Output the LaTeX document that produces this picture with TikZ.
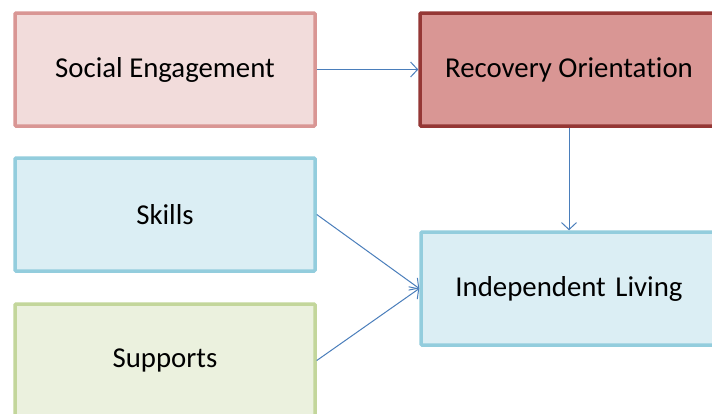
\documentclass[tikz,border=0pt]{standalone}
\usepackage{fontspec}
\setmainfont[Ligatures={NoCommon}]{Carlito}
\usetikzlibrary{arrows.meta}
\definecolor{pinkfill}{HTML}{F2DCDB}
\definecolor{pinkline}{HTML}{D99694}
\definecolor{redfill}{HTML}{D99694}
\definecolor{redline}{HTML}{953735}
\definecolor{bluefill}{HTML}{DBEEF4}
\definecolor{blueline}{HTML}{93CDDD}
\definecolor{greenfill}{HTML}{EBF1DE}
\definecolor{greenline}{HTML}{C3D69B}
\definecolor{arrowblue}{HTML}{4A7EBB}
\tikzset{
  box/.style={rectangle, line width=3.5pt, inner sep=0pt, minimum height=113pt,
    font=\fontsize{28.8}{34}\selectfont, text=black, rounded corners=1pt},
  conn/.style={draw=arrowblue, line width=1pt, -{Straight Barb[length=7pt,width=15pt,line width=1pt]}}
}
\begin{document}
\begin{tikzpicture}[x=1pt,y=-1pt]
\clip (0,0) rectangle (712,413);
\fill[white] (0,0) rectangle (712,413);
\node[box, draw=pinkline, fill=pinkfill, minimum width=300pt] (social) at (165,69.5) {\raisebox{-1.5pt}{Social Engagement}};
\node[box, draw=redline, fill=redfill, minimum width=298pt] (recovery) at (569,69.5) {\raisebox{-1.5pt}{Recovery Orientation}};
\node[box, draw=blueline, fill=bluefill, minimum width=300pt] (skills) at (165,214.5) {\raisebox{-1.5pt}{Skills}};
\node[box, draw=greenline, fill=greenfill, minimum width=300pt] (supports) at (165,360.5) {\raisebox{-2pt}{Supports}};
\node[box, draw=blueline, fill=bluefill, minimum width=296pt] (indep) at (569,288.5) {\raisebox{-1.5pt}{Independent\,\,Living}};
\draw[conn] (social.east) -- (recovery.west);
\draw[conn] (recovery.south) -- (indep.north);
\draw[conn] (skills.east) -- (indep.west);
\draw[conn] (supports.east) -- (indep.west);
\end{tikzpicture}
\end{document}
